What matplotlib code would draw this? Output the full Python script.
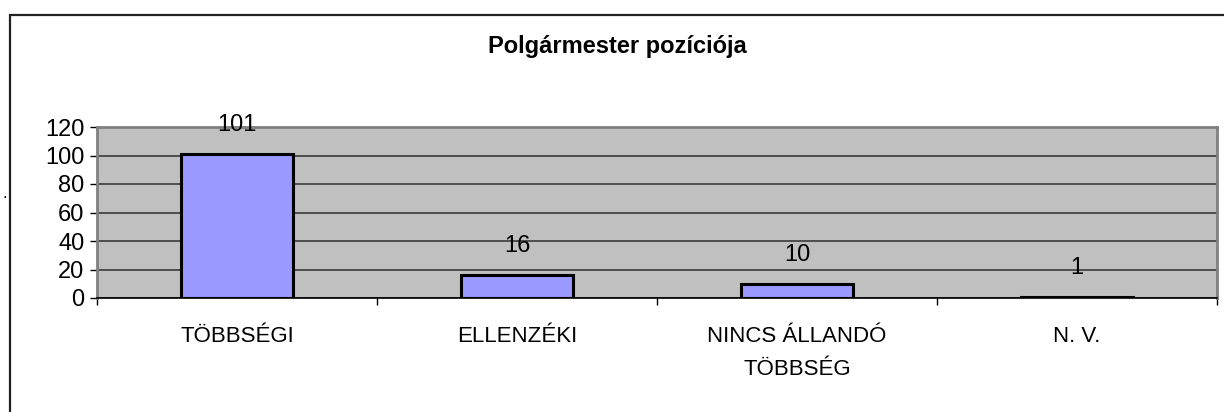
import matplotlib.pyplot as plt
from matplotlib.patches import Rectangle

plt.rcParams['font.family'] = ['Liberation Sans', 'DejaVu Sans']

categories = ['TÖBBSÉGI', 'ELLENZÉKI', 'NINCS ÁLLANDÓ\nTÖBBSÉG', 'N. V.']
values = [101, 16, 10, 1]
yticks = [0, 20, 40, 60, 80, 100, 120]

fig = plt.figure(figsize=(12.24, 4.12), dpi=100)
W, H = 1224, 412

# outer chart border (runs off the right and bottom of the picture)
fig.patches.append(Rectangle((10 / W, -0.1), 1.2, 1 - 15 / H + 0.1,
                             transform=fig.transFigure, fill=False,
                             edgecolor='#222222', linewidth=1.6))

ax = fig.add_axes([97 / W, 114 / H, 1120 / W, 171 / H])
ax.set_facecolor('#c0c0c0')
x = range(len(categories))
bars = ax.bar(x, values, width=0.4, color='#9999ff', edgecolor='black',
              linewidth=2.2, zorder=3)

for b, v in zip(bars, values):
    ax.annotate(str(v), (b.get_x() + b.get_width() / 2, v),
                xytext=(0, 13), textcoords='offset points',
                ha='center', va='bottom', fontsize=17)

ax.set_xlim(-0.5, len(categories) - 0.5)
ax.set_ylim(0, 120)
ax.set_yticks(yticks)
ax.tick_params(axis='y', labelsize=17, length=5, width=1, pad=4, direction='out')
ax.set_xticks(list(x))
ax.set_xticklabels(categories, fontsize=16, linespacing=1.75)
ax.tick_params(axis='x', which='major', length=0, pad=20)
ax.set_xticks([i - 0.5 for i in range(len(categories) + 1)], minor=True)
ax.tick_params(axis='x', which='minor', length=5, width=1, direction='out')

ax.yaxis.grid(True, color='#3a3a3a', linewidth=1.2, zorder=1)
ax.set_axisbelow(True)
for s in ['top', 'right', 'left']:
    ax.spines[s].set_color('#808080')
    ax.spines[s].set_linewidth(2)
ax.spines['bottom'].set_color('black')
ax.spines['bottom'].set_linewidth(1.2)

fig.text(617 / W, 1 - 47 / H, 'Polgármester pozíciója', ha='center', va='center',
         fontsize=17, fontweight='bold')

# stray dot in the source image
fig.text(2 / W, 1 - 198 / H, '.', ha='left', va='baseline', fontsize=12)

fig.savefig('out.png', dpi=100)
